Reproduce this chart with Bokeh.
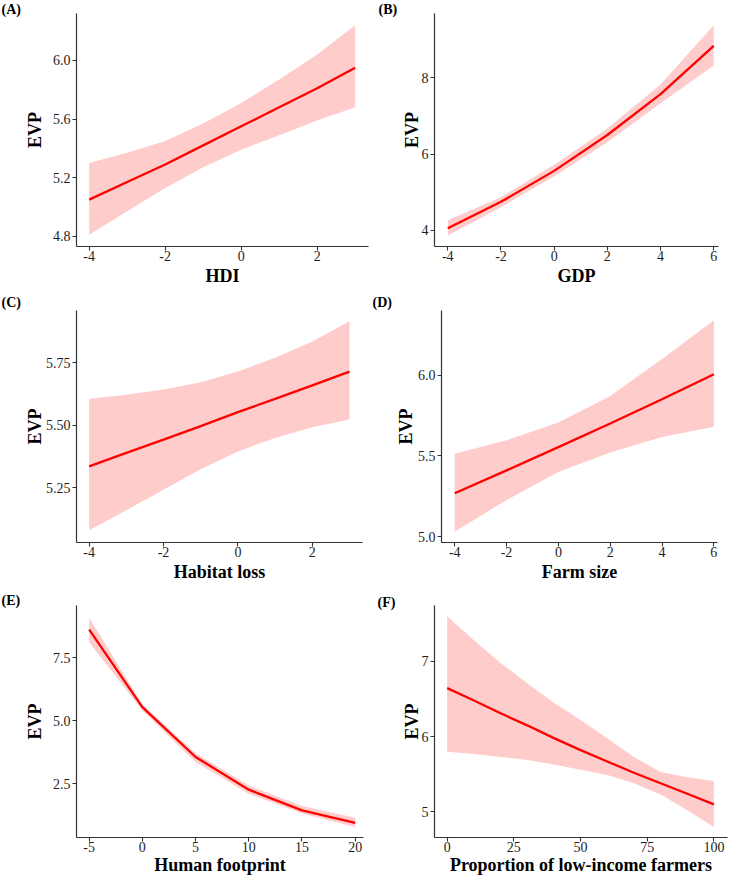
from bokeh.plotting import figure
from bokeh.layouts import column, row
from bokeh.models import Range1d, FixedTicker
from bokeh.core.properties import value
from bokeh.embed import file_html
from bokeh.resources import INLINE

# ---------------- data ----------------
hdi_x = [-4, -3, -2, -1, 0, 1, 2, 3]
hdi_fit = [5.05, 5.17, 5.29, 5.42, 5.55, 5.68, 5.81, 5.95]
hdi_lo = [4.81, 4.97, 5.13, 5.27, 5.39, 5.49, 5.59, 5.68]
hdi_hi = [5.30, 5.37, 5.45, 5.57, 5.71, 5.87, 6.04, 6.24]

gdp_x = [-4, -2, 0, 2, 4, 6]
gdp_fit = [4.06, 4.75, 5.56, 6.50, 7.57, 8.83]
gdp_lo = [3.87, 4.61, 5.42, 6.31, 7.33, 8.32]
gdp_hi = [4.27, 4.87, 5.72, 6.67, 7.82, 9.37]

hab_x = [-4, -3, -2, -1, 0, 1, 2, 3]
hab_fit = [5.336, 5.39, 5.443, 5.497, 5.553, 5.606, 5.66, 5.715]
hab_lo = [5.081, 5.161, 5.243, 5.325, 5.396, 5.450, 5.493, 5.523]
hab_hi = [5.606, 5.622, 5.643, 5.672, 5.715, 5.770, 5.835, 5.916]

farm_x = [-4, -2, 0, 2, 4, 6]
farm_fit = [5.268, 5.41, 5.554, 5.70, 5.85, 6.005]
farm_lo = [5.03, 5.226, 5.40, 5.52, 5.616, 5.68]
farm_hi = [5.513, 5.596, 5.706, 5.87, 6.10, 6.34]

hfp_x = [-5, 0, 5, 10, 15, 20]
hfp_fit = [8.62, 5.54, 3.56, 2.26, 1.44, 0.94]
hfp_lo = [8.12, 5.41, 3.36, 2.10, 1.31, 0.78]
hfp_hi = [9.09, 5.65, 3.71, 2.43, 1.61, 1.14]

lif_x = [0, 10, 20, 30, 40, 50, 60, 70, 80, 90, 100]
lif_fit = [6.645, 6.48, 6.31, 6.15, 5.98, 5.82, 5.67, 5.52, 5.38, 5.24, 5.10]
lif_lo = [5.80, 5.77, 5.73, 5.69, 5.63, 5.56, 5.49, 5.38, 5.23, 5.02, 4.80]
lif_hi = [7.60, 7.28, 6.98, 6.71, 6.45, 6.22, 5.98, 5.73, 5.53, 5.46, 5.41]

panel_letters = ["(A)", "(B)", "(C)", "(D)", "(E)", "(F)"]
x_titles = ["HDI", "GDP", "Habitat loss", "Farm size", "Human footprint",
            "Proportion of low-income farmers"]
y_title = "EVP"

hdi_xticks = [-4, -2, 0, 2]
hdi_yticks = [4.8, 5.2, 5.6, 6.0]
hdi_ylabels = ["4.8", "5.2", "5.6", "6.0"]
gdp_xticks = [-4, -2, 0, 2, 4, 6]
gdp_yticks = [4, 6, 8]
gdp_ylabels = ["4", "6", "8"]
hab_xticks = [-4, -2, 0, 2]
hab_yticks = [5.25, 5.50, 5.75]
hab_ylabels = ["5.25", "5.50", "5.75"]
farm_xticks = [-4, -2, 0, 2, 4, 6]
farm_yticks = [5.0, 5.5, 6.0]
farm_ylabels = ["5.0", "5.5", "6.0"]
hfp_xticks = [-5, 0, 5, 10, 15, 20]
hfp_yticks = [2.5, 5.0, 7.5]
hfp_ylabels = ["2.5", "5.0", "7.5"]
lif_xticks = [0, 25, 50, 75, 100]
lif_yticks = [5, 6, 7]
lif_ylabels = ["5", "6", "7"]

# ---------------- styling / layout ----------------
FONT = "Liberation Serif"
RIBBON = "#FFCCCC"
LINE = "#FF0000"
AXIS = "#333333"
TICKTXT = "#1e1e1e"


def panel(xs, fit, lo, hi, xr, yr, xticks, yticks, ylabels, xtitle,
          W, H, bl, br, bt, bb, ystand, xstand):
    p = figure(width=W, height=H, x_range=Range1d(*xr), y_range=Range1d(*yr),
               output_backend="svg", toolbar_location=None, title=None,
               min_border_left=bl, min_border_right=br,
               min_border_top=bt, min_border_bottom=bb)
    p.xgrid.visible = False
    p.ygrid.visible = False
    p.outline_line_color = None
    p.background_fill_color = "white"
    p.border_fill_color = "white"

    p.varea(x=xs, y1=lo, y2=hi, fill_color=RIBBON, fill_alpha=1.0)
    p.line(xs, fit, line_color=LINE, line_width=2.3)

    for ax in (p.xaxis[0], p.yaxis[0]):
        ax.axis_line_color = AXIS
        ax.axis_line_width = 1.2
        ax.major_tick_line_color = AXIS
        ax.major_tick_line_width = 1.1
        ax.major_tick_in = 0
        ax.major_tick_out = 4
        ax.minor_tick_line_color = None
        ax.major_label_text_font = FONT
        ax.major_label_text_font_size = "14px"
        ax.major_label_text_color = TICKTXT
        ax.axis_label_text_font = FONT
        ax.axis_label_text_font_size = "18px"
        ax.axis_label_text_font_style = "bold"
        ax.axis_label_text_color = "black"

    p.xaxis.ticker = FixedTicker(ticks=xticks)
    p.yaxis.ticker = FixedTicker(ticks=yticks)
    p.yaxis.major_label_overrides = {float(t): s for t, s in zip(yticks, ylabels)}
    p.xaxis.major_label_overrides = {float(t): str(t) for t in xticks}
    p.xaxis.axis_label = xtitle
    p.yaxis.axis_label = y_title
    p.xaxis.major_label_standoff = 0
    p.xaxis.axis_label_standoff = xstand
    p.yaxis.major_label_standoff = 2
    p.yaxis.axis_label_standoff = ystand
    return p


def letter_col(letter, W, H, lx, ly):
    """Narrow column left of a panel that holds its panel letter."""
    s = figure(width=W, height=H, x_range=Range1d(0, W), y_range=Range1d(H, 0),
               output_backend="svg", toolbar_location=None, title=None,
               x_axis_type=None, y_axis_type=None,
               min_border_left=0, min_border_right=0,
               min_border_top=0, min_border_bottom=0)
    s.xgrid.visible = False
    s.ygrid.visible = False
    s.outline_line_color = None
    s.text(x=[lx], y=[ly], text=[letter], text_font=value(FONT),
           text_font_size="14px", text_font_style="bold", text_color="black",
           text_baseline="middle", text_align="left")
    return column(s, spacing=0)


H1, H2, H3 = 292, 292, 293

# row 1 (frames y 13..247)
lA = letter_col(panel_letters[0], 21, H1, 1, 8.5)
pA = panel(hdi_x, hdi_fit, hdi_lo, hdi_hi,
           (-4.334, 3.35), (4.73, 6.32), hdi_xticks, hdi_yticks, hdi_ylabels,
           x_titles[0], 349, H1, 55, 2, 13, 45, 5, 2)
lB = letter_col(panel_letters[1], 28, H1, 8, 8.5)
pB = panel(gdp_x, gdp_fit, gdp_lo, gdp_hi,
           (-4.5, 6.18), (3.58, 9.68), gdp_xticks, gdp_yticks, gdp_ylabels,
           x_titles[1], 331, H1, 36, 11, 13, 46, -3, 2)
# row 2 (frames y 310..542)
lC = letter_col(panel_letters[2], 21, H2, 1, 9.5)
pC = panel(hab_x, hab_fit, hab_lo, hab_hi,
           (-4.34, 3.35), (5.032, 5.959), hab_xticks, hab_yticks, hab_ylabels,
           x_titles[2], 349, H2, 55, 8, 18, 42, -2, 2)
lD = letter_col(panel_letters[3], 22, H2, 2, 10)
pD = panel(farm_x, farm_fit, farm_lo, farm_hi,
           (-4.51, 6.14), (4.963, 6.40), farm_xticks, farm_yticks, farm_ylabels,
           x_titles[3], 337, H2, 49, 12, 18, 42, -1, 2)
# row 3 (frames y 605..837)
lE = letter_col(panel_letters[4], 21, H3, 1, 16)
pE = panel(hfp_x, hfp_fit, hfp_lo, hfp_hi,
           (-6.19, 20.78), (0.36, 9.58), hfp_xticks, hfp_yticks, hfp_ylabels,
           x_titles[4], 349, H3, 55, 7, 21, 40, 5, 0)
lF = letter_col(panel_letters[5], 27, H3, 7, 17.5)
pF = panel(lif_x, lif_fit, lif_lo, lif_hi,
           (-4.76, 105.1), (4.659, 7.743), lif_xticks, lif_yticks, lif_ylabels,
           x_titles[5], 332, H3, 37, 2, 21, 40, -3, 0)

layout = column(row(lA, pA, lB, pB, spacing=0),
                row(lC, pC, lD, pD, spacing=0),
                row(lE, pE, lF, pF, spacing=0), spacing=0)

open("out.html", "w").write(file_html(layout, INLINE))
